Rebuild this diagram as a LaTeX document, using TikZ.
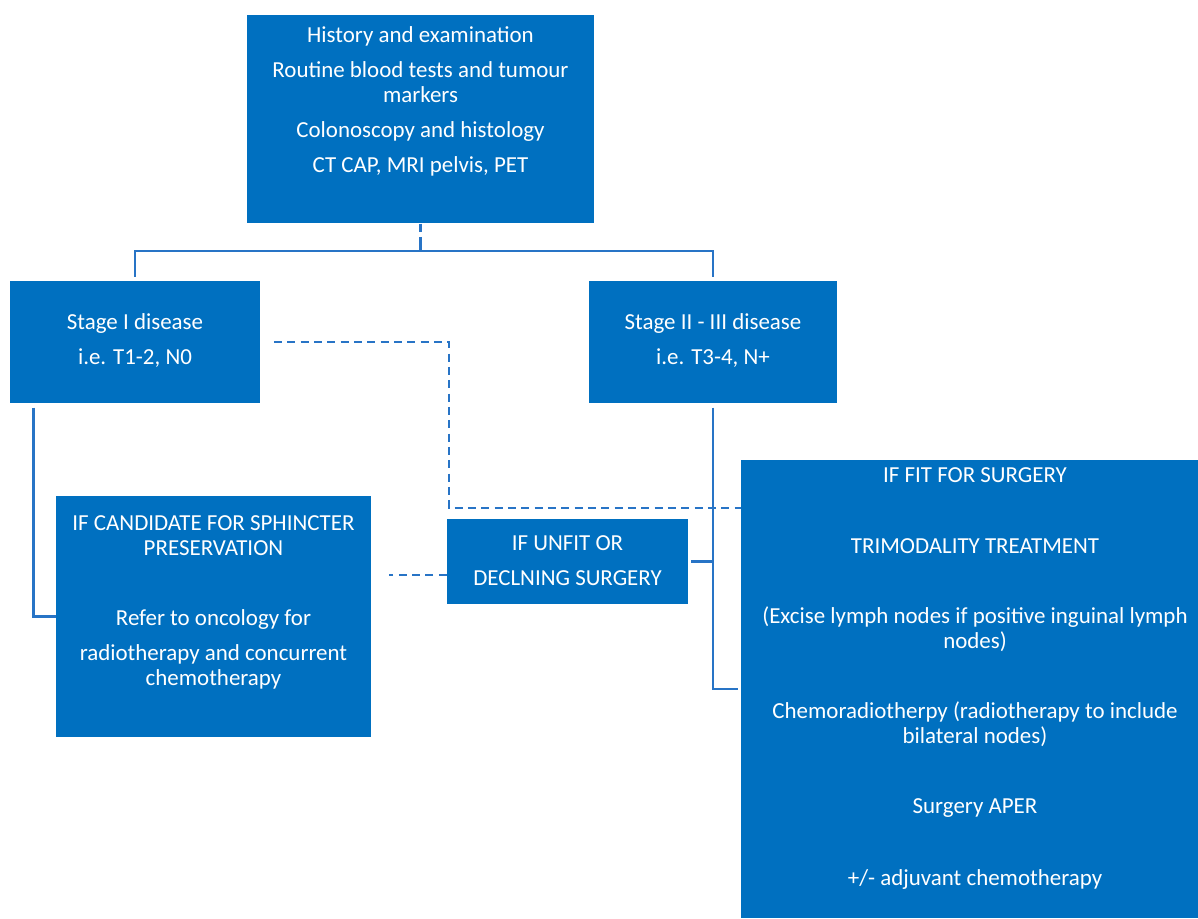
\documentclass[tikz,border=0pt]{standalone}
\usepackage{fontspec}
\setmainfont{Carlito}
\usetikzlibrary{fit}
\definecolor{boxblue}{RGB}{0,112,192}
\definecolor{lineblue}{RGB}{40,116,198}
\tikzset{every picture/.style={line width=0.75pt}}
\tikzset{
  box/.style={fill=boxblue, draw=none, inner sep=0pt},
  boxtext/.style={text=white, align=center, inner sep=0pt, font=\fontsize{17.2}{18.75}\selectfont},
  link/.style={draw=lineblue, line width=1.9pt},
  dashlink/.style={draw=lineblue, line width=1.9pt, dash pattern={on 6pt off 4pt}},
}

\begin{document}
\begin{tikzpicture}[x=0.75pt,y=0.75pt,yscale=-1,xscale=1]
\useasboundingbox (0,0) rectangle (1198,918);

%Shape: Rectangle [workup]
\node[box, fit={(247,15) (594,223)}] (workup) {};
\node[boxtext] (workupTxt) at (420.5,101) {History and examination\\[7.5pt]
  Routine blood tests and tumour\\ markers\\[7.5pt]
  Colonoscopy and histology\\[7.5pt]
  CT CAP, MRI pelvis, PET};

%Shape: Rectangle [stageone]
\node[box, fit={(10,281) (260,403)}] (stageone) {};
\node[boxtext] (stageoneTxt) at (135,340.5) {Stage I disease\\[7.5pt] i.e. T1-2, N0};

%Shape: Rectangle [stagetwo]
\node[box, fit={(589,281) (837,403)}] (stagetwo) {};
\node[boxtext] (stagetwoTxt) at (713,340.5) {Stage II - III disease\\[7.5pt] i.e. T3-4, N+};

%Shape: Rectangle [sphincter]
\node[box, fit={(56,496) (371,737)}] (sphincter) {};
\node[boxtext] (sphincterTxt) at (213.5,602.5) {IF CANDIDATE FOR SPHINCTER\\ PRESERVATION\\[33.75pt]
  Refer to oncology for\\[7.5pt]
  radiotherapy and concurrent\\ chemotherapy};

%Shape: Rectangle [unfit]
\node[box, fit={(447,519) (688,604)}] (unfit) {};
\node[boxtext] (unfitTxt) at (567.5,560.5) {IF UNFIT OR\\[7.5pt] DECLNING SURGERY};

%Shape: Rectangle [fit]
\node[box, fit={(741,460) (1198,918)}] (fitsurg) {};
\node[boxtext] (fitsurgTxt) at (975,678.5) {IF FIT FOR SURGERY\\[34.5pt]
  TRIMODALITY TREATMENT\\[33.75pt]
  (Excise lymph nodes if positive inguinal lymph\\ nodes)\\[33.75pt]
  Chemoradiotherpy (radiotherapy to include\\ bilateral nodes)\\[33.75pt]
  Surgery APER\\[35.25pt]
  +/- adjuvant chemotherapy};

%Straight Lines [split]
\coordinate (tap) at (420.5,240);
\coordinate (split) at (420.5,251);
\draw[dashlink] (workup.south) -- (tap);
\draw[link] (tap) -- (split);
\draw[link] ([yshift=-3pt]stageone.north) |- (split) -| ([yshift=-3pt]stagetwo.north);

%Straight Lines [stage I to sphincter]
\draw[link] ([xshift=18pt,yshift=3pt]stageone.south west) |- (sphincter.west);

%Straight Lines [stage II to fit]
\draw[link] ([yshift=3pt]stagetwo.south) |- ([xshift=-2pt]fitsurg.west);
\draw[link] ([xshift=2pt]unfit.east) -- (unfit.east -| stagetwo.south);

%Dashed Lines [stage I to fit]
\coordinate (bend) at (449,508);
\draw[dashlink] ([xshift=10pt]stageone.east) -| (bend) -- (bend -| fitsurg.west);

%Dashed Lines [sphincter to unfit]
\draw[dashlink] ([yshift=10pt]unfit.west) -- ([yshift=10pt,xshift=-43.5pt]unfit.west);

\end{tikzpicture}
\end{document}
